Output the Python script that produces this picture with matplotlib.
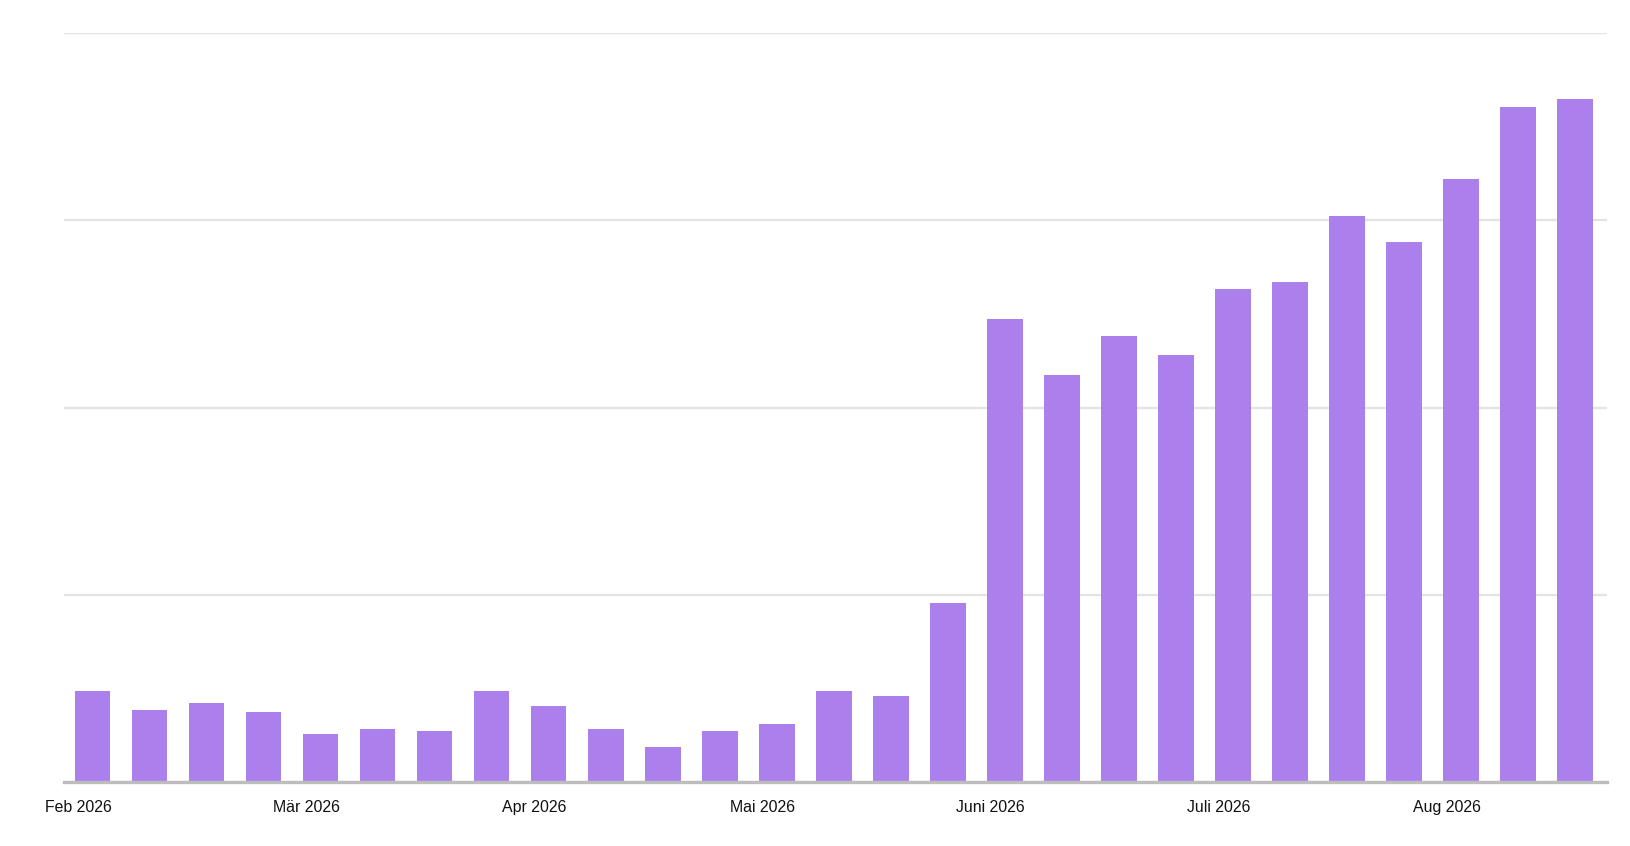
import matplotlib
matplotlib.use("Agg")
import matplotlib.pyplot as plt

plt.rcParams['font.family'] = ['Liberation Sans', 'DejaVu Sans']

# weekly values, Feb - Aug 2026
values = [48.3, 38.3, 42.2, 37.2, 25.6, 28.3, 27.2, 48.3, 40.6, 28.3,
          18.3, 27.2, 31.1, 48.3, 45.6, 95.6, 247.2, 217.2, 238.3, 228.3,
          263.3, 267.2, 302.2, 288.3, 322.2, 360.6, 365.0]
month_labels = ["Feb 2026", "Mär 2026", "Apr 2026", "Mai 2026",
                "Juni 2026", "Juli 2026", "Aug 2026"]
month_pos = [-0.25, 3.75, 7.75, 11.75, 15.75, 19.75, 23.75]

fig = plt.figure(figsize=(16.3, 8.46), dpi=100)
ax = fig.add_axes([0.0394, 0.076, 0.9463, 0.8846])

x = list(range(len(values)))
ax.bar(x, values, width=0.626, color="#ac80ec", zorder=3)

ax.set_xlim(-0.495, 26.555)
ax.set_ylim(0, 400)
ax.set_yticks([0, 100, 200, 300, 400])
ax.set_yticklabels([])
ax.tick_params(axis="y", length=0)
ax.grid(axis="y", color="#e3e3e3", linewidth=1.6, zorder=0)

ax.set_xticks(month_pos)
ax.set_xticklabels(month_labels, fontsize=11.4, color="#111111")
ax.tick_params(axis="x", length=0, pad=13)

for s in ["top", "right", "left"]:
    ax.spines[s].set_visible(False)
ax.spines["bottom"].set_color("#bdbdbd")
ax.spines["bottom"].set_linewidth(2.4)
ax.spines["bottom"].set_zorder(4)

fig.savefig("out.png", dpi=100)
